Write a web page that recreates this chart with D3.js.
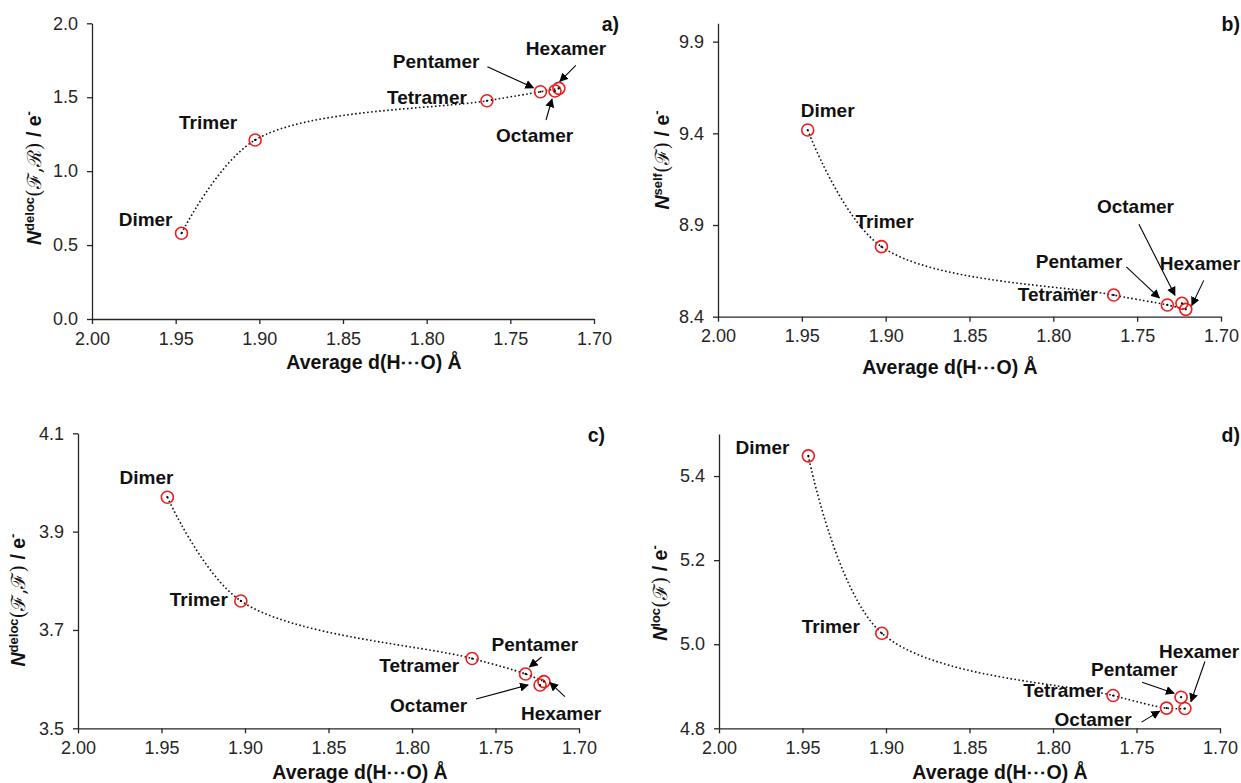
<!DOCTYPE html>
<html>
<head>
<meta charset="utf-8">
<script src="https://cdn.jsdelivr.net/npm/d3@7"></script>
<style>
  body { margin: 0; background: #fff; }
  svg { font-family: "Liberation Sans", Arial, sans-serif; }
  .tick text { font-size: 18px; fill: #262626; }
  .domain, .tick line { stroke: #262626; stroke-width: 1.3; }
  .lbl { font-size: 19px; font-weight: bold; fill: #111; }
  .title { font-size: 19.5px; font-weight: bold; fill: #111; }
</style>
</head>
<body>
<svg width="1241" height="783"></svg>
<script>
// clusters, in the order the values are listed
const names = ["Dimer", "Trimer", "Tetramer", "Pentamer", "Hexamer", "Octamer"];
// average d(H···O) in Å
const dist = [1.9465, 1.9025, 1.764, 1.732, 1.721, 1.7233];

const valuesA = [0.580, 1.211, 1.476, 1.537, 1.560, 1.542];
const valuesB = [9.418, 8.782, 8.518, 8.464, 8.440, 8.473];
const valuesC = [3.970, 3.759, 3.642, 3.6105, 3.595, 3.588];
const valuesD = [5.448, 5.026, 4.878, 4.848, 4.847, 4.874];

const xTicks = [2.00, 1.95, 1.90, 1.85, 1.80, 1.75, 1.70];
const yTicksA = [0.0, 0.5, 1.0, 1.5, 2.0];
const yTicksB = [8.4, 8.9, 9.4, 9.9];
const yTicksC = [3.5, 3.7, 3.9, 4.1];
const yTicksD = [4.8, 5.0, 5.2, 5.4];

const svg = d3.select("svg");

// arrowhead
svg.append("defs").append("marker")
    .attr("id", "head")
    .attr("viewBox", "0 0 10 10")
    .attr("refX", 9).attr("refY", 5)
    .attr("markerWidth", 9).attr("markerHeight", 9)
    .attr("markerUnits", "userSpaceOnUse")
    .attr("orient", "auto")
  .append("path")
    .attr("d", "M0,0 L10,5 L0,10 z")
    .attr("fill", "#000");

// label layout per panel: [point index, dx, dy, anchor, arrow (rel. to point) or null]
const panels = [
  { id: "a)", values: valuesA, yDomain: [0, 2], yTicks: yTicksA, box: [92, 594, 23.3, 319],
    sup: "deloc", arg: "(\u2131,\u211B)", yTitle: [34, 178], xTitle: [374, 369], tag: [619, 31],
    labels: [
      [0, -9, -7, "end", null],
      [1, -18, -11, "end", null],
      [2, -20, 3, "end", null],
      [3, -61, -24, "end", [-53, -25, -7, -4]],
      [4, -33, -33, "start", [17, -23, 1, -7]],
      [5, -59, 51, "start", [-9, 29, -3, 8]]
    ] },
  { id: "b)", values: valuesB, yDomain: [8.4, 10.0], yTicks: yTicksB, box: [718, 1221, 23.3, 316.7],
    sup: "self", arg: "(\u2131)", yTitle: [662, 160], xTitle: [950, 374], tag: [1240, 31],
    labels: [
      [0, -7, -13, "start", null],
      [1, -26, -19, "start", null],
      [2, -16, 6, "end", null],
      [3, -45, -37, "end", [-41, -38, -8, -7]],
      [5, -85, -90, "start", [-43, -79, -7, -8]],
      [4, -26, -39, "start", [18, -29, 6, -4]]
    ] },
  { id: "c)", values: valuesC, yDomain: [3.5, 4.1], yTicks: yTicksC, box: [78, 579, 433.3, 728.3],
    sup: "deloc", arg: "(\u2131,\u2131)", yTitle: [18, 600], xTitle: [360, 779], tag: [605, 442],
    labels: [
      [0, 6, -13, "end", null],
      [1, -13, 5, "end", null],
      [2, -13, 14, "end", null],
      [3, -34, -23, "start", [16, -17, 4, -7]],
      [5, -150, 27, "start", [-64, 14, -12, 0]],
      [4, -23, 38, "start", [21, 15, 6, 1]]
    ] },
  { id: "d)", values: valuesD, yDomain: [4.8, 5.5], yTicks: yTicksD, box: [719, 1220, 434, 728.3],
    sup: "loc", arg: "(\u2131)", yTitle: [660, 593], xTitle: [1000, 779], tag: [1240, 442],
    labels: [
      [0, -19, -2, "end", null],
      [1, -22, 0, "end", null],
      [2, -10, 1, "end", null],
      [5, -90, -21, "start", [-39, -15, -7, -4], "Pentamer"],
      [4, -26, -51, "start", [20, -47, 6, -7]],
      [3, -112, 18, "start", [-25, 14, -7, 3], "Octamer"]
    ] }
];

panels.forEach(p => {
  const [left, right, top, bottom] = p.box;
  const x = d3.scaleLinear().domain([2.00, 1.70]).range([left, right]);
  const y = d3.scaleLinear().domain(p.yDomain).range([bottom, top]);
  const g = svg.append("g");

  g.append("g")
      .attr("transform", `translate(0,${bottom})`)
      .call(d3.axisBottom(x).tickValues(xTicks).tickFormat(d3.format(".2f"))
        .tickSize(5).tickSizeOuter(0).tickPadding(8));

  g.append("g")
      .attr("transform", `translate(${left},0)`)
      .call(d3.axisLeft(y).tickValues(p.yTicks).tickFormat(d3.format(".1f"))
        .tickSize(5).tickSizeOuter(0).tickPadding(9));

  // dotted smoothed line through dimer..hexamer
  const pts = d3.range(5).map(i => [dist[i], p.values[i]]);
  g.append("path")
      .attr("d", d3.line().x(d => x(d[0])).y(d => y(d[1])).curve(d3.curveCatmullRom.alpha(0.5))(pts))
      .attr("fill", "none")
      .attr("stroke", "#111")
      .attr("stroke-width", 1.6)
      .attr("stroke-dasharray", "1.6 2.4");

  // markers
  const all = names.map((n, i) => ({ n, x: dist[i], v: p.values[i] }));
  g.selectAll(".mk").data(all).enter().append("circle")
      .attr("cx", d => x(d.x)).attr("cy", d => y(d.v)).attr("r", 6)
      .attr("fill", "none").attr("stroke", "#ee1c1c").attr("stroke-width", 1.6);
  g.selectAll(".dot").data(all).enter().append("circle")
      .attr("cx", d => x(d.x)).attr("cy", d => y(d.v)).attr("r", 1.1)
      .attr("fill", "#000");

  // labels and arrows
  p.labels.forEach(([i, dx, dy, anchor, arrow, text]) => {
    const px = x(dist[i]), py = y(p.values[i]);
    g.append("text").attr("class", "lbl")
        .attr("x", px + dx).attr("y", py + dy)
        .attr("text-anchor", anchor)
        .text(text || names[i]);
    if (arrow) {
      g.append("line")
          .attr("x1", px + arrow[0]).attr("y1", py + arrow[1])
          .attr("x2", px + arrow[2]).attr("y2", py + arrow[3])
          .attr("stroke", "#000").attr("stroke-width", 1.1)
          .attr("marker-end", "url(#head)");
    }
  });

  // axis titles
  g.append("text").attr("class", "title")
      .attr("x", p.xTitle[0]).attr("y", p.xTitle[1])
      .attr("text-anchor", "middle")
      .text("Average d(H\u22EFO) \u00C5");

  const yt = g.append("text").attr("class", "title")
      .attr("transform", `translate(${p.yTitle[0]},${p.yTitle[1]}) rotate(-90)`)
      .attr("dy", "0.35em")
      .attr("text-anchor", "middle");
  yt.append("tspan").attr("font-style", "italic").text("N");
  yt.append("tspan").attr("font-size", "13px").attr("dy", "-7").text(p.sup);
  yt.append("tspan").attr("dy", "7").attr("font-weight", "normal")
      .attr("font-family", "'DejaVu Serif', serif").text(p.arg);
  yt.append("tspan").text(" / e");
  yt.append("tspan").attr("font-size", "13px").attr("dy", "-8").text("-");

  g.append("text").attr("class", "title")
      .attr("x", p.tag[0]).attr("y", p.tag[1])
      .attr("text-anchor", "end")
      .text(p.id);
});
</script>
</body>
</html>
